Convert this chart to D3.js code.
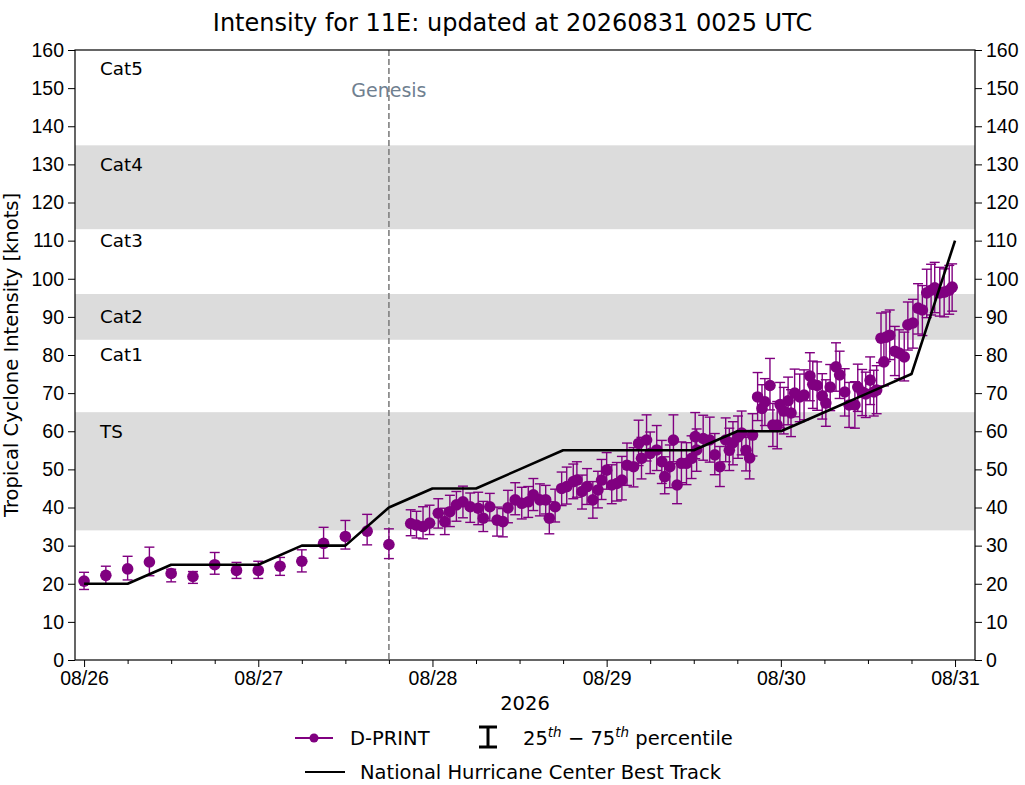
<!DOCTYPE html>
<html>
<head>
<meta charset="utf-8">
<script src="https://cdn.jsdelivr.net/npm/d3@7"></script>
<style>
  body { margin: 0; background: #fff; }
  svg { font-family: "DejaVu Sans", sans-serif; }
</style>
</head>
<body>
<svg id="chart" width="1025" height="785"></svg>
<script>
// ---- data ----
const trackHours = [0, 6, 12, 18, 24, 30, 36, 42, 48, 54, 60, 66, 72, 78, 84, 90, 96, 102, 108, 114, 120];
const trackKnots = [20, 20, 25, 25, 25, 30, 30, 40, 45, 45, 50, 55, 55, 55, 55, 60, 60, 65, 70, 75, 110];

// D-PRINT, hours after 2026-08-26 00 UTC
const dprintHours = [0, 3, 6, 9, 12, 15, 18, 21, 24, 27, 30, 33, 36, 39, 42,
  45.0, 45.8, 46.7, 47.6, 48.8, 49.7, 50.4, 51.3, 52.2, 53.2, 54.3, 55.0, 55.9, 56.9, 57.7, 58.4,
  59.4, 60.3, 61.2, 61.9, 62.8, 63.6, 64.1, 64.9, 65.8, 66.5, 67.4, 67.9, 68.6, 69.3, 70.1, 70.8,
  71.3, 72.0, 72.7, 73.4, 74.1, 74.8, 75.7, 76.4, 76.8, 77.5, 78.0, 78.9, 79.6, 80.0, 80.7, 81.2,
  81.7, 82.3, 83.0, 83.7, 84.2, 84.4, 85.3, 86.2, 86.9, 87.6, 88.4, 88.9, 89.4, 90.1, 90.6, 91.2,
  91.7, 92.1, 92.8, 93.4, 93.8, 94.5, 94.9, 95.5, 95.9, 96.4, 97.0, 97.4, 97.9, 98.6, 99.2, 100.0,
  100.4, 101.0, 101.7, 102.2, 102.8, 103.6, 104.1, 104.8, 105.4, 106.2, 106.6, 107.2, 107.7, 108.3, 108.8, 109.2,
  109.8, 110.2, 110.5, 111.0, 111.7, 112.3, 113.0, 113.5, 114.2, 114.9, 115.5, 116.1, 116.7, 117.2, 117.9, 118.5,
  119.2, 119.6];
const dprintKnots = [20.7, 22.2, 23.9, 25.7, 22.7, 21.9, 25.0, 23.5, 23.5, 24.6, 25.9, 30.6, 32.4, 33.8, 30.3,
  35.8, 35.4, 35.0, 35.9, 38.5, 36.3, 38.9, 40.7, 41.5, 40.2, 39.8, 37.2, 40.2, 36.7, 36.3, 39.9,
  42.0, 41.1, 41.5, 43.3, 42.0, 42.0, 37.2, 40.2, 45.0, 45.5, 46.8, 47.2, 44.2, 45.5, 42.0, 44.6,
  47.2, 49.8, 45.9, 46.3, 47.2, 51.1, 50.7, 56.8, 52.9, 57.7, 54.2, 55.1, 52.0, 48.1, 50.7, 57.7,
  45.9, 51.6, 51.6, 52.9, 58.6, 55.1, 58.1, 57.7, 53.8, 50.7, 57.7, 55.0, 57.0, 58.5, 59.5, 55.0,
  53.0, 59.0, 69.0, 66.0, 67.7, 72.0, 61.6, 61.6, 67.0, 65.3, 68.0, 64.8, 70.0, 69.0, 69.5, 74.5,
  72.3, 72.0, 69.3, 67.4, 71.6, 76.9, 74.8, 70.3, 66.9, 66.9, 71.6, 70.3, 69.8, 73.4, 70.3, 70.8,
  84.4, 78.2, 84.7, 85.2, 81.0, 80.5, 79.5, 87.9, 88.4, 92.3, 91.8, 96.3, 97.0, 97.6, 96.3, 96.5,
  97.0, 97.8];
const dprintP25 = [18.5, 19.9, 21.0, 22.1, 20.5, 20.1, 22.5, 21.4, 21.4, 22.2, 23.1, 26.7, 29.1, 30.2, 26.6,
  32.6, 32.0, 31.8, 32.9, 34.6, 32.9, 35.0, 36.4, 37.3, 36.1, 35.5, 33.7, 36.5, 32.5, 32.3, 36.0,
  38.1, 37.0, 37.4, 39.2, 37.8, 38.3, 33.1, 36.2, 40.5, 40.9, 42.3, 42.7, 39.6, 40.8, 37.2, 39.9,
  42.1, 44.8, 41.0, 41.7, 42.0, 45.8, 45.4, 51.0, 47.5, 52.2, 48.9, 49.7, 46.3, 43.6, 45.2, 52.0,
  41.0, 46.5, 46.0, 47.6, 52.8, 49.5, 52.4, 51.9, 48.6, 45.5, 52.0, 49.7, 51.2, 52.9, 53.8, 49.6,
  47.5, 53.5, 62.8, 60.1, 61.5, 65.6, 56.0, 55.4, 60.9, 59.3, 61.7, 58.6, 63.8, 62.5, 63.0, 68.0,
  66.0, 65.5, 63.2, 61.3, 65.4, 70.5, 68.6, 64.0, 61.0, 60.8, 65.2, 64.1, 63.6, 67.0, 64.0, 64.6,
  78.0, 71.9, 78.3, 78.8, 74.6, 73.8, 73.2, 81.3, 81.8, 85.5, 85.1, 89.8, 90.5, 91.1, 90.2, 90.0,
  90.7, 91.5];
const dprintP75 = [23.0, 24.6, 27.2, 29.6, 23.8, 23.2, 28.2, 25.6, 25.9, 26.9, 28.9, 34.8, 36.6, 38.2, 34.4,
  39.4, 39.0, 40.2, 40.6, 42.3, 39.8, 43.2, 44.2, 45.6, 43.8, 44.0, 41.6, 43.7, 40.1, 39.7, 44.5,
  46.5, 45.3, 45.5, 47.6, 46.2, 45.8, 41.5, 44.8, 49.3, 50.6, 51.4, 52.0, 48.5, 50.2, 46.8, 49.5,
  52.6, 54.4, 51.2, 51.8, 53.4, 56.9, 55.7, 62.9, 58.4, 64.3, 59.8, 61.5, 57.6, 53.3, 56.4, 64.3,
  51.5, 57.2, 57.0, 58.8, 64.9, 60.6, 64.2, 63.7, 59.4, 56.0, 63.5, 60.8, 62.5, 64.0, 65.3, 60.2,
  58.4, 64.6, 75.4, 72.2, 73.8, 79.1, 67.3, 67.8, 72.8, 71.5, 74.2, 70.9, 76.3, 75.0, 76.1, 80.6,
  78.4, 78.2, 75.1, 73.5, 77.5, 83.2, 81.0, 76.4, 72.8, 73.0, 77.6, 76.2, 75.5, 79.5, 76.0, 77.2,
  91.0, 84.5, 91.3, 91.8, 87.5, 86.6, 86.0, 93.9, 94.6, 98.7, 98.2, 102.5, 103.8, 104.3, 103.0, 102.6,
  103.5, 103.9];

const bandRanges = [[34, 65], [84, 96], [113, 135]];
const catNames = ["Cat5", "Cat4", "Cat3", "Cat2", "Cat1", "TS"];
const catLabelKnots = [155, 130, 110, 90, 80, 60];
const dayTicks = ["08/26", "08/27", "08/28", "08/29", "08/30", "08/31"];
const genesisHour = 42;
const yTicks = d3.range(0, 161, 10);

// ---- layout ----
const W = 1025, H = 785;
const margin = {left: 75, right: 50, top: 50, bottom: 125};
const pw = W - margin.left - margin.right;
const ph = H - margin.top - margin.bottom;
const purple = '#800080';
const fs = '19.5px';

const t0 = Date.UTC(2026, 7, 26, 0, 0);
const hourToDate = h => new Date(t0 + h * 3600e3);

const svg = d3.select('#chart');
const g = svg.append('g').attr('transform', 'translate(' + margin.left + ',' + margin.top + ')');

const x = d3.scaleUtc()
    .domain([hourToDate(-1.25), hourToDate(122.75)])
    .range([0, pw]);
const y = d3.scaleLinear().domain([0, 160]).range([ph, 0]);

// category bands
g.append('g').selectAll('rect')
    .data(bandRanges).enter()
    .append('rect')
    .attr('x', 0)
    .attr('width', pw)
    .attr('y', d => y(d[1]))
    .attr('height', d => y(d[0]) - y(d[1]))
    .attr('fill', '#dcdcdc');

// category labels
g.append('g').selectAll('text')
    .data(catNames).enter()
    .append('text')
    .attr('x', 25)
    .attr('y', (d, i) => y(catLabelKnots[i]))
    .attr('dy', '0.35em')
    .style('font-size', '18.3px')
    .text(d => d);

// genesis
g.append('line')
    .attr('x1', x(hourToDate(genesisHour))).attr('x2', x(hourToDate(genesisHour)))
    .attr('y1', 0).attr('y2', ph)
    .attr('stroke', '#808080')
    .attr('stroke-width', 1.6)
    .attr('stroke-dasharray', '6,3');
g.append('text')
    .attr('x', x(hourToDate(genesisHour)))
    .attr('y', y(149.5))
    .attr('dy', '0.35em')
    .attr('text-anchor', 'middle')
    .attr('fill', '#708090')
    .style('font-size', '19px')
    .text('Genesis');

// error bars
const pts = dprintHours.map((h, i) => ({t: hourToDate(h), v: dprintKnots[i], lo: dprintP25[i], hi: dprintP75[i]}));
const cap = 5;
const eb = g.append('g').attr('stroke', purple).attr('stroke-width', 1.4);
pts.forEach(d => {
    const cx = x(d.t);
    eb.append('line').attr('x1', cx).attr('x2', cx).attr('y1', y(d.lo)).attr('y2', y(d.hi));
    eb.append('line').attr('x1', cx - cap).attr('x2', cx + cap).attr('y1', y(d.lo)).attr('y2', y(d.lo));
    eb.append('line').attr('x1', cx - cap).attr('x2', cx + cap).attr('y1', y(d.hi)).attr('y2', y(d.hi));
});

// dots
g.append('g').selectAll('circle')
    .data(pts).enter()
    .append('circle')
    .attr('cx', d => x(d.t))
    .attr('cy', d => y(d.v))
    .attr('r', 5.8)
    .attr('fill', purple);

// best track
const track = trackHours.map((h, i) => ({t: hourToDate(h), v: trackKnots[i]}));
g.append('path')
    .datum(track)
    .attr('fill', 'none')
    .attr('stroke', 'black')
    .attr('stroke-width', 2.6)
    .attr('stroke-linejoin', 'round')
    .attr('d', d3.line().x(d => x(d.t)).y(d => y(d.v)));

// axes
const dayDates = dayTicks.map((d, i) => hourToDate(24 * i));
const minorDates = d3.range(0, 121, 6).filter(h => h % 24 != 0).map(hourToDate);

function styleAxis(sel) {
    sel.select('.domain').remove();
    sel.selectAll('line').attr('stroke', 'black').attr('stroke-width', 1);
    sel.selectAll('text').style('font-size', fs).attr('fill', 'black');
}

g.append('g')
    .attr('transform', 'translate(0,' + ph + ')')
    .call(d3.axisBottom(x).tickValues(dayDates).tickSize(7).tickPadding(4)
        .tickFormat((d, i) => dayTicks[i]))
    .call(styleAxis);
g.append('g')
    .attr('transform', 'translate(0,' + ph + ')')
    .call(d3.axisBottom(x).tickValues(minorDates).tickSize(4).tickFormat(''))
    .call(styleAxis);
g.append('g')
    .call(d3.axisLeft(y).tickValues(yTicks).tickSize(7).tickPadding(4))
    .call(styleAxis);
g.append('g')
    .attr('transform', 'translate(' + pw + ',0)')
    .call(d3.axisRight(y).tickValues(yTicks).tickSize(7).tickPadding(4))
    .call(styleAxis);

// frame
g.append('rect')
    .attr('width', pw).attr('height', ph)
    .attr('fill', 'none').attr('stroke', 'black').attr('stroke-width', 1.2);

// titles
svg.append('text')
    .attr('x', W / 2).attr('y', 31)
    .attr('text-anchor', 'middle')
    .style('font-size', '24px')
    .text('Intensity for 11E: updated at 20260831 0025 UTC');
svg.append('text')
    .attr('x', margin.left + pw / 2).attr('y', 710)
    .attr('text-anchor', 'middle')
    .style('font-size', fs)
    .text('2026');
svg.append('text')
    .attr('transform', 'translate(18,' + (margin.top + ph / 2) + ') rotate(-90)')
    .attr('text-anchor', 'middle')
    .style('font-size', fs)
    .text('Tropical Cyclone Intensity [knots]');

// legend
const lg = svg.append('g');
lg.append('line').attr('x1', 295).attr('x2', 333).attr('y1', 738).attr('y2', 738)
    .attr('stroke', purple).attr('stroke-width', 2);
lg.append('circle').attr('cx', 314).attr('cy', 738).attr('r', 4.5).attr('fill', purple);
lg.append('text').attr('x', 350).attr('y', 745).style('font-size', fs).text('D-PRINT');

lg.append('line').attr('x1', 488).attr('x2', 488).attr('y1', 727).attr('y2', 747)
    .attr('stroke', 'black').attr('stroke-width', 3);
lg.append('line').attr('x1', 479).attr('x2', 497).attr('y1', 727).attr('y2', 727)
    .attr('stroke', 'black').attr('stroke-width', 3);
lg.append('line').attr('x1', 479).attr('x2', 497).attr('y1', 747).attr('y2', 747)
    .attr('stroke', 'black').attr('stroke-width', 3);
const pct = lg.append('text').attr('x', 523).attr('y', 745).style('font-size', fs);
pct.append('tspan').text('25');
pct.append('tspan').attr('dy', -8).style('font-size', '13.5px').style('font-style', 'italic').text('th');
pct.append('tspan').attr('dy', 8).text(' \u2212 75');
pct.append('tspan').attr('dy', -8).style('font-size', '13.5px').style('font-style', 'italic').text('th');
pct.append('tspan').attr('dy', 8).text(' percentile');

lg.append('line').attr('x1', 305).attr('x2', 345).attr('y1', 772).attr('y2', 772)
    .attr('stroke', 'black').attr('stroke-width', 2);
lg.append('text').attr('x', 360).attr('y', 779).style('font-size', fs)
    .text('National Hurricane Center Best Track');
</script>
</body>
</html>
